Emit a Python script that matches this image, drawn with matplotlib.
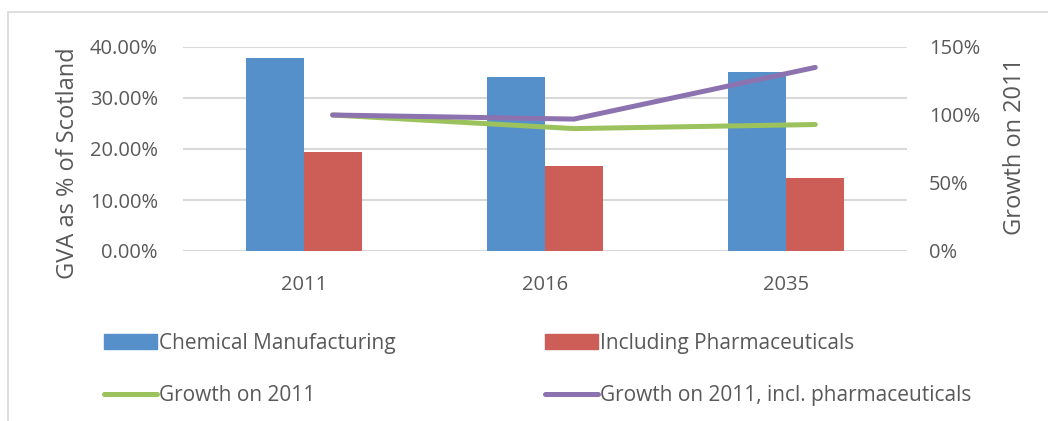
import matplotlib.pyplot as plt
import matplotlib.ticker as ticker
from matplotlib.patches import Rectangle, Patch
from matplotlib.lines import Line2D
import numpy as np

years = ['2011', '2016', '2035']
chem_share = [37.8, 34.1, 35.1]
pharma_share = [19.4, 16.7, 14.3]
growth = [100, 90, 93]
growth_pharma = [100, 97, 135]

blue = '#5590ca'
red = '#cd5d57'
green = '#9bc25c'
purple = '#8d72b0'
grid_col = '#d9d9d9'
text_col = '#595959'

plt.rcParams['font.family'] = ['Open Sans', 'DejaVu Sans']
plt.rcParams['text.color'] = text_col

fig = plt.figure(figsize=(10.48, 4.21), dpi=100)
ax = fig.add_axes([183 / 1048, 1 - 251 / 421, 724 / 1048, 204 / 421])
ax2 = ax.twinx()

x = np.arange(len(years))
w = 0.24
ax.bar(x - w / 2, chem_share, w, color=blue, zorder=2)
ax.bar(x + w / 2, pharma_share, w, color=red, zorder=2)

ax.set_ylim(0, 40)
ax.set_xlim(-0.5, 2.5)
ax.set_yticks([0, 10, 20, 30, 40])
ax.yaxis.set_major_formatter(ticker.FuncFormatter(lambda v, p: '{:.2f}%'.format(v)))
ax.set_xticks(x)
ax.set_xticklabels(years)
ax.grid(axis='y', color=grid_col, linewidth=1.5, zorder=0)
ax.set_axisbelow(True)
ax.tick_params(axis='both', length=0, labelsize=14.5, labelcolor=text_col)
ax.tick_params(axis='y', pad=18)
ax.tick_params(axis='x', pad=17)
ax.set_ylabel('GVA as % of Scotland', fontsize=17, color=text_col)
ax.yaxis.set_label_coords(-0.142, 0.43)

ax2.plot(x + w / 2, growth, color=green, linewidth=3.6, solid_capstyle='round', zorder=3)
ax2.plot(x + w / 2, growth_pharma, color=purple, linewidth=3.6, solid_capstyle='round', zorder=4)
ax2.set_ylim(0, 150)
ax2.set_yticks([0, 50, 100, 150])
ax2.yaxis.set_major_formatter(ticker.FuncFormatter(lambda v, p: '{:.0f}%'.format(v)))
ax2.tick_params(axis='y', length=0, labelsize=14.5, labelcolor=text_col, pad=16)
ax2.set_ylabel('Growth on 2011', fontsize=17, color=text_col)
ax2.yaxis.set_label_coords(1.133, 0.515)

for a in (ax, ax2):
    for s in a.spines.values():
        s.set_visible(False)

# chart border
fig.patches.append(Rectangle((8 / 1048, -0.1), 1.2, 1 - 12 / 421 + 0.1, transform=fig.transFigure,
                             fill=False, edgecolor='#d9d9d9', linewidth=1.2, clip_on=False))

leg_kw = dict(frameon=False, fontsize=15, handlelength=2.55, handletextpad=0.1,
              labelspacing=1.5, loc='upper left', borderaxespad=0, borderpad=0)
h1 = [Patch(color=blue), Line2D([], [], color=green, linewidth=3.6, solid_capstyle='round')]
h2 = [Patch(color=red), Line2D([], [], color=purple, linewidth=3.6, solid_capstyle='round')]
fig.legend(h1, ['Chemical Manufacturing', 'Growth on 2011'],
           bbox_to_anchor=(104 / 1048, 1 - 333 / 421), **leg_kw)
fig.legend(h2, ['Including Pharmaceuticals', 'Growth on 2011, incl. pharmaceuticals'],
           bbox_to_anchor=(545 / 1048, 1 - 333 / 421), **leg_kw)

fig.savefig('out.png', dpi=100)
